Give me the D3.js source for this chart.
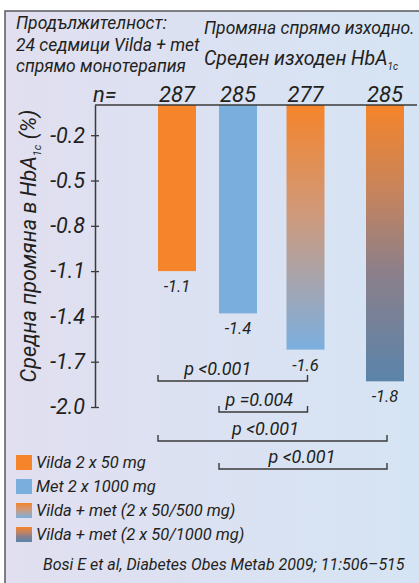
<!DOCTYPE html>
<html>
<head>
<meta charset="utf-8">
<script src="https://cdn.jsdelivr.net/npm/d3@7/dist/d3.min.js"></script>
<style>
  html, body { margin: 0; padding: 0; background: #ffffff; }
  svg { display: block; }
  text { font-family: Roboto, "Open Sans", sans-serif; font-style: italic; fill: #231f20; }
</style>
</head>
<body>
<svg id="chart" width="419" height="583"></svg>
<script>
// ---------------- data ----------------
const groups = ["Vilda 2 x 50 mg", "Met 2 x 1000 mg", "Vilda + met (2 x 50/500 mg)", "Vilda + met (2 x 50/1000 mg)"];
const nValues = [287, 285, 277, 285];
const changes = [-1.1, -1.38, -1.62, -1.83];
const yTicks = [-0.2, -0.5, -0.8, -1.1, -1.4, -1.7, -2.0];
const pLabels = ["p <0.001", "p =0.004", "p <0.001", "p <0.001"];
const pFrom = [0, 1, 0, 1];
const pTo = [2, 2, 3, 3];
const titleLeft = ["Продължителност:", "24 седмици Vilda + met", "спрямо монотерапия"];
const titleRight1 = "Промяна спрямо изходно.";
const titleRight2 = "Среден изходен HbA";
const yTitle = "Средна промяна в HbA";
const citation = "Bosi E et al, Diabetes Obes Metab 2009; 11:506–515";

// ---------------- layout ----------------
const W = 419, H = 583;
const plotLeft = 95, plotTop = 105, plotBottom = 407, plotRight = 417;
const barCenters = [177, 238, 305.5, 385];
const barW = 38;
const bracketY = [381, 412, 441, 469];
const bracketTextDx = [-15, -4, -7, -1];
const ink = "#231f20";
const fmt = v => v.toFixed(1); // hyphen-minus, as in the original

const svg = d3.select("#chart");
const defs = svg.append("defs");

// background gradient
const bg = defs.append("linearGradient").attr("id", "bgGrad").attr("x1", 0).attr("x2", 1).attr("y1", 0).attr("y2", 0);
bg.append("stop").attr("offset", 0).attr("stop-color", "#e1dff0");
bg.append("stop").attr("offset", 1).attr("stop-color", "#d5e4f4");

const g3 = defs.append("linearGradient").attr("id", "grad3").attr("x1", 0).attr("x2", 0).attr("y1", 0).attr("y2", 1);
g3.append("stop").attr("offset", 0).attr("stop-color", "#f5842a");
g3.append("stop").attr("offset", 0.45).attr("stop-color", "#cf9a7c");
g3.append("stop").attr("offset", 1).attr("stop-color", "#7bafe0");

const g4 = defs.append("linearGradient").attr("id", "grad4").attr("x1", 0).attr("x2", 0).attr("y1", 0).attr("y2", 1);
g4.append("stop").attr("offset", 0).attr("stop-color", "#f5842a");
g4.append("stop").attr("offset", 0.3).attr("stop-color", "#c9845a");
g4.append("stop").attr("offset", 0.6).attr("stop-color", "#8d7f8a");
g4.append("stop").attr("offset", 1).attr("stop-color", "#5a84aa");

const fills = ["#f5842a", "#7aaedd", "url(#grad3)", "url(#grad4)"];

// frame + background
svg.append("rect").attr("x", 5).attr("y", 11).attr("width", W - 5).attr("height", H - 11).attr("fill", "url(#bgGrad)");
svg.append("path").attr("d", `M5,${H} V11 H${W}`).attr("fill", "none").attr("stroke", "#58595b").attr("stroke-width", 1.5);

// scales
const x = d3.scaleOrdinal().domain(groups).range(barCenters);
const y = d3.scaleLinear().domain([0, -2.0]).range([plotTop, plotBottom]);
const color = d3.scaleOrdinal().domain(groups).range(fills);

// titles
svg.append("g").selectAll("text").data(titleLeft).join("text")
  .attr("x", 16).attr("y", (d, i) => 29 + i * 21.5)
  .attr("font-size", 17.5).text(d => d);

svg.append("text").attr("x", 204).attr("y", 34).attr("font-size", 17.5).text(titleRight1);
const t2 = svg.append("text").attr("x", 204).attr("y", 65).attr("font-size", 19.5);
t2.append("tspan").text(titleRight2);
t2.append("tspan").attr("font-size", 10).attr("dy", 5).text("1c");

// n= row
svg.append("text").attr("x", 93).attr("y", 102).attr("font-size", 22).text("n=");
svg.append("g").selectAll("text").data(groups).join("text")
  .attr("x", d => x(d)).attr("y", 102).attr("text-anchor", "middle").attr("font-size", 22)
  .text((d, i) => nValues[i]);

// bars
svg.append("g").selectAll("rect").data(groups).join("rect")
  .attr("x", d => x(d) - barW / 2)
  .attr("y", y(0))
  .attr("width", barW)
  .attr("height", (d, i) => y(changes[i]) - y(0))
  .attr("fill", d => color(d));

// value labels
svg.append("g").selectAll("text").data(groups).join("text")
  .attr("x", d => x(d)).attr("y", (d, i) => y(changes[i]) + 21)
  .attr("text-anchor", "middle").attr("font-size", 16.5)
  .text((d, i) => fmt(changes[i]));

// top axis line
svg.append("line").attr("x1", plotLeft).attr("x2", plotRight).attr("y1", plotTop).attr("y2", plotTop)
  .attr("stroke", "#3a3a3a").attr("stroke-width", 1.5);

// y axis
const yAxis = d3.axisLeft(y).tickValues(yTicks).tickFormat(fmt).tickSizeInner(4).tickSizeOuter(0).tickPadding(6);
const ya = svg.append("g").attr("transform", `translate(${plotLeft},0)`).call(yAxis);
ya.attr("font-family", null).attr("font-size", null);
ya.select(".domain").attr("stroke", "#3a3a3a").attr("stroke-width", 1.5);
ya.selectAll(".tick line").attr("x1", -4).attr("x2", 4).attr("stroke", "#3a3a3a").attr("stroke-width", 1.3);
ya.selectAll(".tick text").attr("font-size", 21.5).attr("fill", ink);

// y axis title
const yt = svg.append("text").attr("transform", "translate(36,246) rotate(-90)")
  .attr("text-anchor", "middle").attr("font-size", 21.5);
yt.append("tspan").text(yTitle);
yt.append("tspan").attr("font-size", 11).attr("dy", 5).text("1c");
yt.append("tspan").attr("dy", -5).text(" (%)");

// significance brackets
const br = svg.append("g");
pLabels.forEach((lab, i) => {
  const x1 = x(groups[pFrom[i]]) - barW / 2;
  const x2 = x(groups[pTo[i]]) + 2;
  const yy = bracketY[i];
  br.append("path").attr("d", `M${x1},${yy - 6} V${yy} H${x2} V${yy - 6}`)
    .attr("fill", "none").attr("stroke", "#3a3a3a").attr("stroke-width", 1.4);
  br.append("text").attr("x", (x1 + x2) / 2 + bracketTextDx[i]).attr("y", yy - 6)
    .attr("text-anchor", "middle").attr("font-size", 18).text(lab);
});

// legend
const lg = svg.append("g").selectAll("g").data(groups).join("g")
  .attr("transform", (d, i) => `translate(16,${455 + i * 24})`);
lg.append("rect").attr("width", 16).attr("height", 15).attr("fill", d => color(d));
lg.append("text").attr("x", 20).attr("y", 13).attr("font-size", 16.5).text(d => d);

// citation
svg.append("text").attr("x", 43).attr("y", 570).attr("font-size", 16).text(citation);
</script>
</body>
</html>
